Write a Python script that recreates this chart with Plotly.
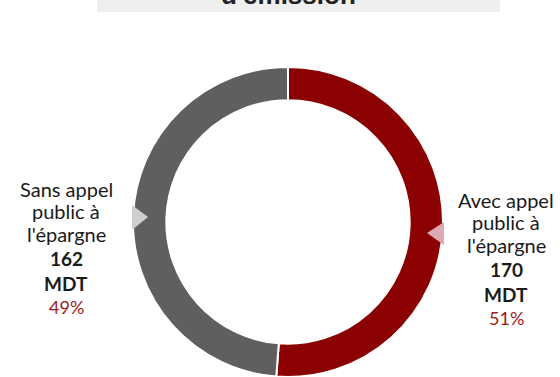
import plotly.graph_objects as go

# Emissions by issuance mode (MDT)
categories = ["Avec appel public à l'épargne", "Sans appel public à l'épargne"]
label_lines = [["Avec appel", "public à", "l'épargne"], ["Sans appel", "public à", "l'épargne"]]
values = [170, 162]
colors = ["#8b0000", "#5f5f5f"]
pointer_colors = ["#dcaab2", "#cfcfcf"]
title_text = "d'émission"

W, H = 560, 377
total = sum(values)
pcts = [round(v * 100 / total) for v in values]

fig = go.Figure()
fig.add_trace(go.Pie(
    labels=categories,
    values=values,
    hole=0.785,
    sort=False,
    direction="clockwise",
    rotation=0,
    textinfo="none",
    hoverinfo="label+value+percent",
    marker=dict(colors=colors, line=dict(color="white", width=2)),
    domain=dict(x=[132 / W, 444 / W], y=[0, 310 / H]),
    showlegend=False,
))


def px(x):
    return x / W


def py(y):
    return 1 - y / H


shapes = [
    # header band
    dict(type="rect", xref="paper", yref="paper", x0=px(97), x1=px(500), y0=py(12), y1=1.02,
         fillcolor="#efefef", line=dict(width=0), layer="below"),
    # callout pointers on the ring
    dict(type="path", xref="paper", yref="paper",
         path=f"M {px(444)},{py(222)} L {px(427)},{py(233)} L {px(444)},{py(245)} Z",
         fillcolor=pointer_colors[0], line=dict(width=0)),
    dict(type="path", xref="paper", yref="paper",
         path=f"M {px(132)},{py(205)} L {px(148)},{py(217)} L {px(132)},{py(230)} Z",
         fillcolor=pointer_colors[1], line=dict(width=0)),
]

font = "Lato, 'Open Sans', sans-serif"
label_x = [506, 66]
label_rows = [[200, 222, 245, 269, 294, 318], [189, 211, 234, 258, 283, 307]]
sizes = [20, 20, 20, 19, 19, 18]
annotations = []
for i in range(len(values)):
    lines = label_lines[i] + [f"<b>{values[i]}</b>", "<b>MDT</b>",
                               f"<span style='color:#9b1b1b'>{pcts[i]}%</span>"]
    for j, t in enumerate(lines):
        annotations.append(dict(
            x=px(label_x[i]), y=py(label_rows[i][j]), xref="paper", yref="paper",
            text=t, showarrow=False, xanchor="center", yanchor="middle",
            font=dict(family=font, size=sizes[j], color="#1a1a1a"),
        ))

annotations.append(dict(
    x=px(288), y=py(12), xref="paper", yref="paper", text=f"<b>{title_text}</b>",
    showarrow=False, xanchor="center", yanchor="bottom",
    font=dict(family="Liberation Sans, Arial, sans-serif", size=26, color="#222222"),
))

fig.update_layout(
    width=W, height=H,
    margin=dict(l=0, r=0, t=0, b=0),
    paper_bgcolor="white", plot_bgcolor="white",
    shapes=shapes, annotations=annotations,
)

fig.write_html("out.html")
